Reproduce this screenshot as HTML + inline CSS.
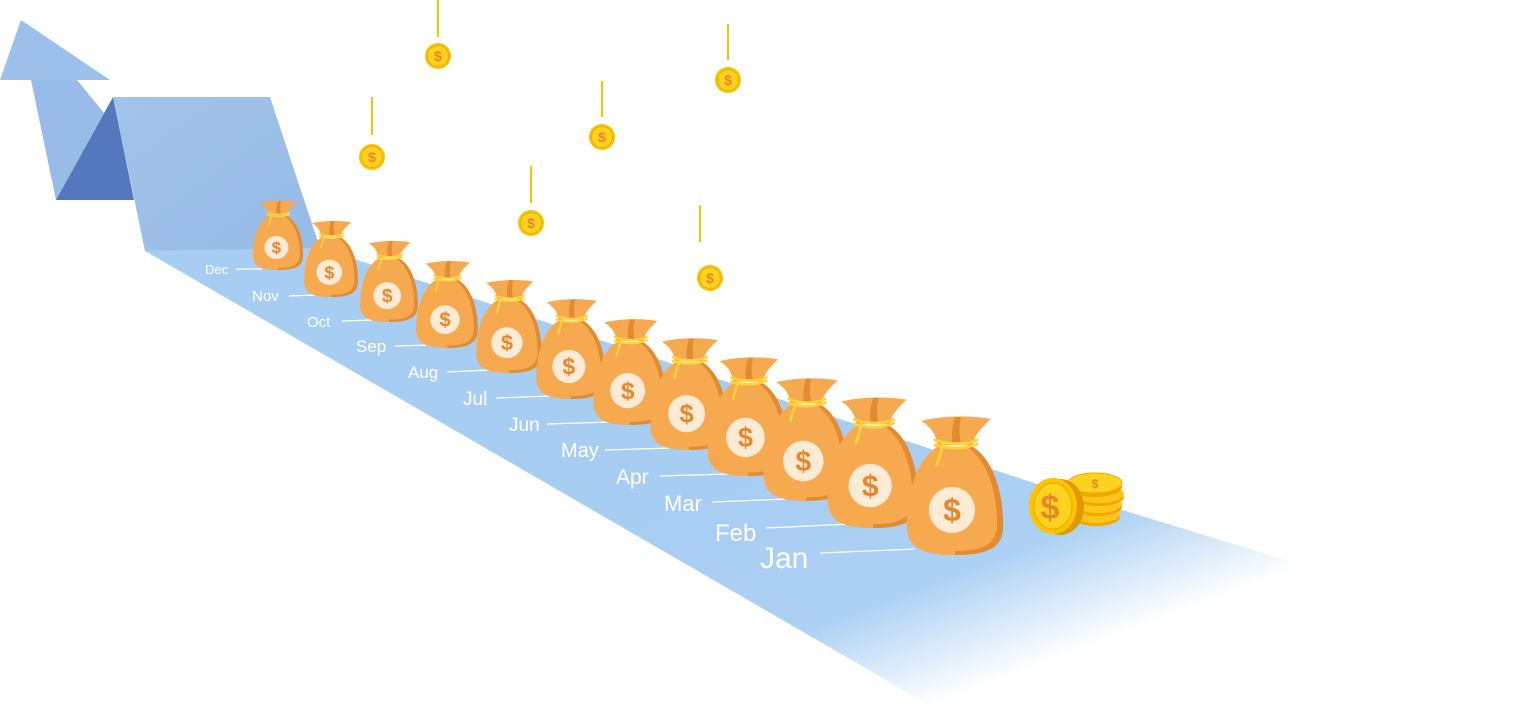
<!DOCTYPE html>
<html><head><meta charset="utf-8"><style>
html,body{margin:0;padding:0;background:#fff;}
svg{display:block;font-family:"Liberation Sans",sans-serif;}
</style></head><body>
<svg width="1519" height="717" viewBox="0 0 1519 717" xmlns="http://www.w3.org/2000/svg">
<defs>
<linearGradient id="road" x1="800" y1="450" x2="900" y2="717" gradientUnits="userSpaceOnUse">
<stop offset="0" stop-color="#a8cdf3"/><stop offset="0.6" stop-color="#add1f3"/><stop offset="1" stop-color="#ffffff"/>
</linearGradient>
<linearGradient id="panel" x1="0" y1="0" x2="1" y2="1">
<stop offset="0" stop-color="#a2c3ea"/><stop offset="1" stop-color="#97bbe7"/>
</linearGradient>
<g id="bag">
<path d="M32,32 C10,46 1,82 2,114 C4,134 20,140 50,140 C80,140 97,134 98,114 C99,82 90,46 68,32 Z" fill="#f6a94f"/>
<path d="M68,32 C90,46 99,82 98,114 C97,134 80,140 50,140 L50,136 C78,136 90,130 92,112 C93,82 84,46 62,32 Z" fill="#e38b30"/>
<path d="M16,6 C35,1 65,0 86,4 C77,12 68,22 68,30 L32,30 C32,22 27,12 16,6Z" fill="#f6a94f"/>
<path d="M50,2 C47,12 46,22 48,30 L56,30 C54,20 54,10 56,2Z" fill="#e38b30"/>
<path d="M30,25 C45,30 60,30 72,25 M30,30 C45,34 60,34 72,29 M38,30 L32,50" stroke="#ffd23a" stroke-width="3" fill="none" stroke-linecap="round"/>
<circle cx="47" cy="95" r="23" fill="#fdebd5"/>
<text x="47" y="106" font-size="32" font-weight="bold" fill="#e8862a" text-anchor="middle">$</text>
</g>
<g id="coin">
<circle r="13" fill="#f5c400"/><circle r="10.5" fill="#ffd21f" stroke="#eab000" stroke-width="1"/>
<text y="5" font-size="14" font-weight="bold" fill="#e8862a" text-anchor="middle">$</text>
</g>
</defs>
<polygon points="145,251 318,247 1040,485 1450,610 1300,717 950,717" fill="url(#road)"/>
<polygon points="31,80 77,80 104,113 56,200" fill="#98bbe7"/>
<polygon points="0,80 21,20 110,80" fill="#9cc0ea"/>
<polygon points="56,200 113,97 134,200" fill="#5577be"/>
<polygon points="113,97 270,97 320,248 145,251" fill="url(#panel)"/>
<g stroke="#f5c400" stroke-width="2">
<line x1="438" y1="0" x2="438" y2="37"/><line x1="372" y1="97" x2="372" y2="135"/>
<line x1="602" y1="81" x2="602" y2="117"/><line x1="728" y1="24" x2="728" y2="60"/>
<line x1="531" y1="166" x2="531" y2="203"/><line x1="700" y1="205" x2="700" y2="242"/>
</g>
<use href="#coin" x="438" y="56"/><use href="#coin" x="372" y="157"/><use href="#coin" x="602" y="137"/>
<use href="#coin" x="728" y="80"/><use href="#coin" x="531" y="223"/><use href="#coin" x="710" y="278"/>
<g fill="#fff" stroke="none">
<text x="205" y="274" font-size="13">Dec</text>
<text x="252" y="301" font-size="15">Nov</text>
<text x="307" y="327" font-size="15">Oct</text>
<text x="356" y="352" font-size="17">Sep</text>
<text x="408" y="378" font-size="17">Aug</text>
<text x="463" y="405" font-size="19">Jul</text>
<text x="509" y="431" font-size="19">Jun</text>
<text x="561" y="457" font-size="20">May</text>
<text x="616" y="484" font-size="21">Apr</text>
<text x="664" y="511" font-size="22">Mar</text>
<text x="715" y="541" font-size="24">Feb</text>
<text x="760" y="568" font-size="30">Jan</text>
</g>
<g stroke="#fff" stroke-width="1.2">
<line x1="236" y1="269" x2="262" y2="269"/><line x1="289" y1="296" x2="315" y2="295"/>
<line x1="342" y1="321" x2="372" y2="320"/><line x1="395" y1="346" x2="430" y2="345"/>
<line x1="447" y1="372" x2="490" y2="370"/><line x1="496" y1="398" x2="550" y2="396"/>
<line x1="547" y1="424" x2="612" y2="422"/><line x1="605" y1="450" x2="670" y2="448"/>
<line x1="660" y1="476" x2="728" y2="474"/><line x1="712" y1="502" x2="786" y2="499"/>
<line x1="766" y1="528" x2="850" y2="524"/><line x1="820" y1="553" x2="915" y2="549"/>
</g>
<g transform="translate(252,200) scale(0.52,0.5)"><use href="#bag"/></g>
<g transform="translate(303,220) scale(0.56,0.55)"><use href="#bag"/></g>
<g transform="translate(359,240) scale(0.6,0.586)"><use href="#bag"/></g>
<g transform="translate(415,260) scale(0.64,0.628)"><use href="#bag"/></g>
<g transform="translate(475,279) scale(0.68,0.671)"><use href="#bag"/></g>
<g transform="translate(535,298) scale(0.72,0.721)"><use href="#bag"/></g>
<g transform="translate(592,318) scale(0.76,0.764)"><use href="#bag"/></g>
<g transform="translate(649,337) scale(0.8,0.807)"><use href="#bag"/></g>
<g transform="translate(706,356) scale(0.84,0.857)"><use href="#bag"/></g>
<g transform="translate(762,377) scale(0.88,0.885)"><use href="#bag"/></g>
<g transform="translate(826,396) scale(0.94,0.943)"><use href="#bag"/></g>
<g transform="translate(905,415) scale(1,1)"><use href="#bag"/></g>
<g>
<ellipse cx="1096" cy="517" rx="24" ry="9" fill="#f0a800"/><ellipse cx="1096" cy="514" rx="24" ry="9" fill="#ffc61a"/>
<ellipse cx="1098" cy="507" rx="24" ry="9" fill="#f0a800"/><ellipse cx="1098" cy="504" rx="24" ry="9" fill="#ffc61a"/>
<ellipse cx="1099" cy="497" rx="25" ry="9" fill="#f0a800"/><ellipse cx="1099" cy="494" rx="25" ry="9" fill="#ffc61a"/>
<ellipse cx="1095" cy="487" rx="27" ry="10" fill="#f0a800"/><ellipse cx="1095" cy="483" rx="27" ry="10" fill="#ffd21f" stroke="#f0a800"/>
<text x="1095" y="488" font-size="12" font-weight="bold" fill="#e8862a" text-anchor="middle">$</text>
<ellipse cx="1060" cy="507" rx="24" ry="28" fill="#e09a00"/>
<ellipse cx="1053" cy="506" rx="24" ry="28" fill="#ffc400"/>
<ellipse cx="1053" cy="506" rx="19" ry="23" fill="#ffd21f" stroke="#eaa800" stroke-width="1"/>
<text x="1050" y="519" font-size="34" font-weight="bold" fill="#e8862a" text-anchor="middle">$</text>
</g>
</svg>
</body></html>
